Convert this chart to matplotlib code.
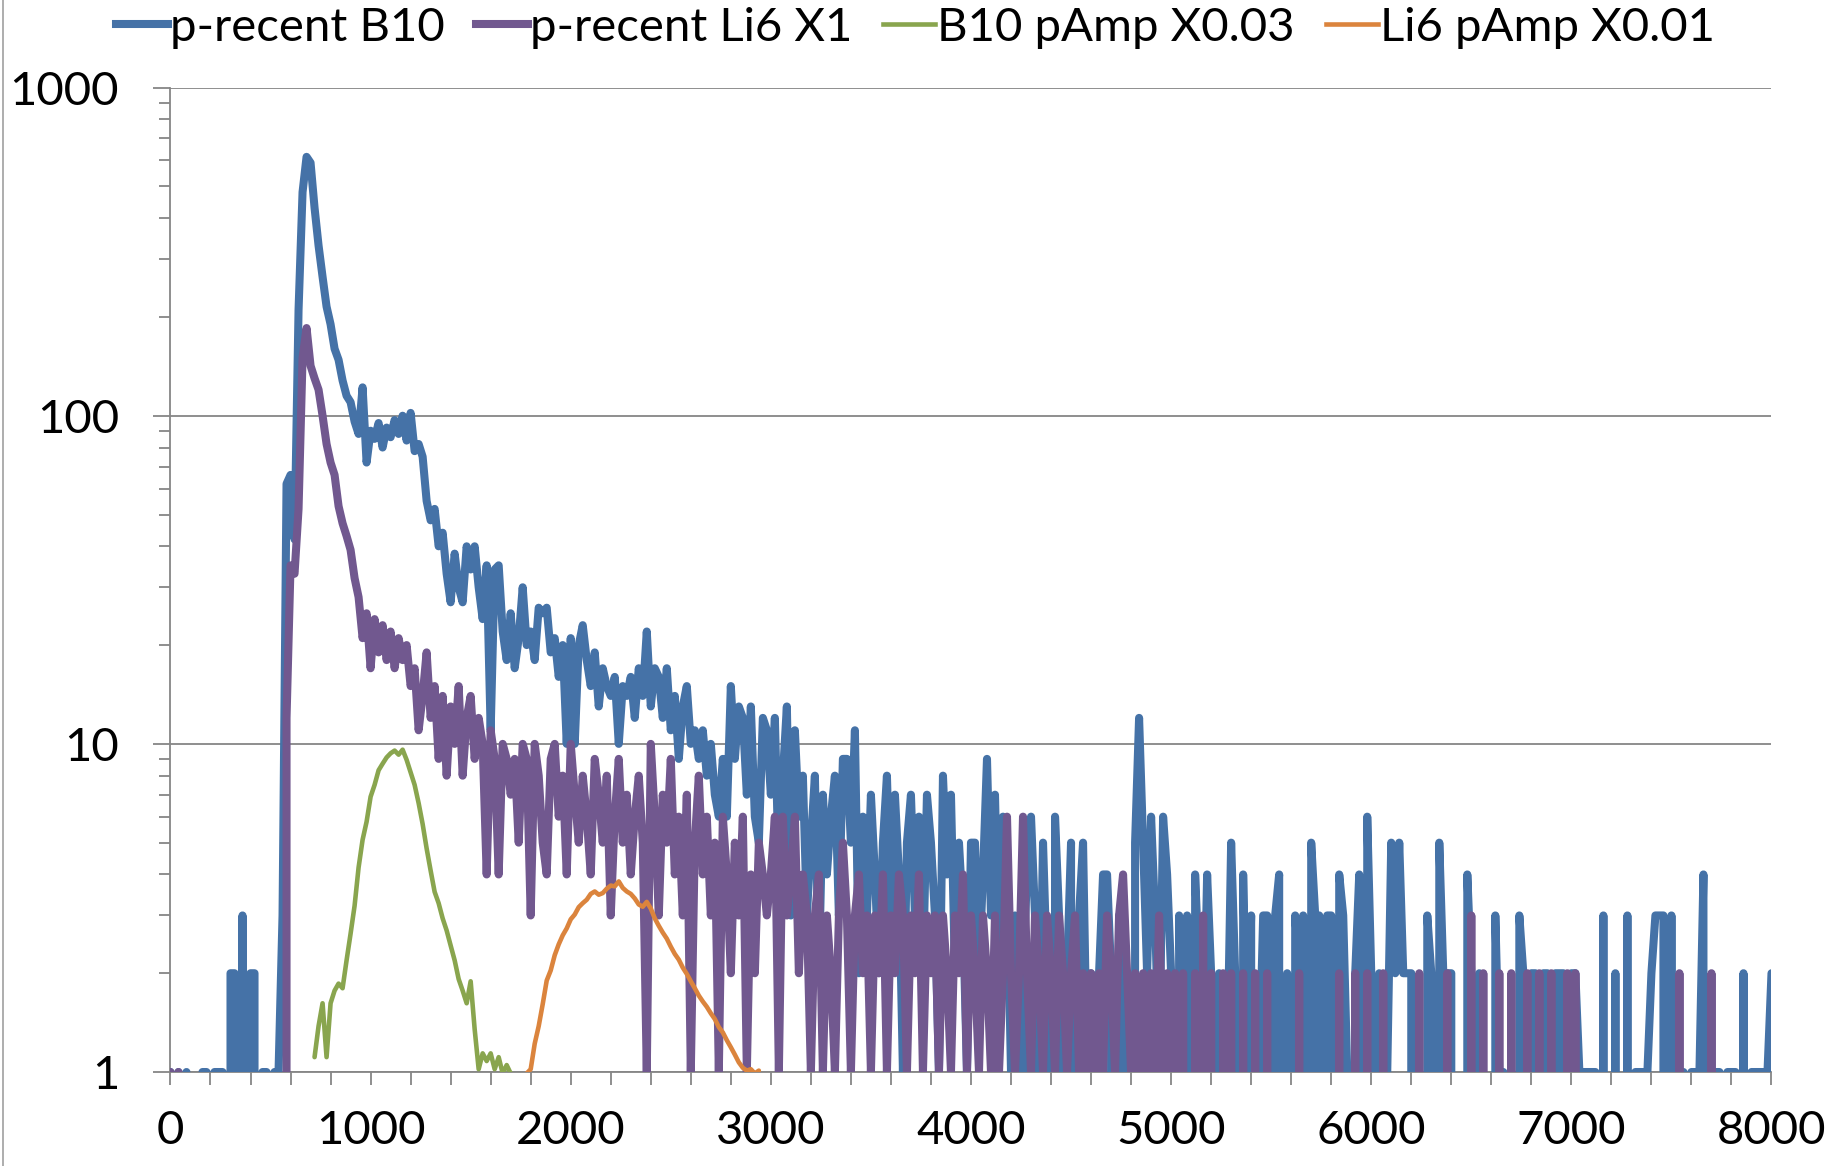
import numpy as np
import matplotlib
matplotlib.use("Agg")
import matplotlib.pyplot as plt
from matplotlib.ticker import FixedLocator, NullFormatter, MultipleLocator
from matplotlib.lines import Line2D

plt.rcParams['font.family'] = ['Lato', 'DejaVu Sans']

# histogram bins, 20 channels wide
bin_x = np.arange(0, 8001, 20)

b10_recent = [
    1, 0, 1, 0, 1, 0, 0, 0, 1, 1,
    0, 1, 1, 1, 0, 2, 2, 0, 3, 0,
    2, 2, 0, 1, 1, 0, 1, 1, 3, 62,
    66, 42, 210, 480, 615, 590, 430, 330, 265, 215,
    190, 160, 148, 128, 115, 110, 96, 88, 122, 72,
    90, 85, 95, 80, 92, 86, 97, 88, 100, 84,
    102, 78, 82, 75, 55, 48, 52, 40, 44, 33,
    27, 38, 30, 27, 40, 34, 40, 30, 24, 35,
    11, 34, 35, 22, 18, 25, 17, 21, 30, 20,
    22, 18, 26, 25, 26, 19, 21, 16, 20, 10,
    21, 10, 20, 23, 18, 15, 19, 13, 17, 15,
    14, 16, 10, 15, 14, 16, 12, 17, 14, 22,
    13, 17, 16, 12, 17, 11, 14, 9, 13, 15,
    10, 11, 9, 11, 8, 10, 7, 6, 9, 6,
    15, 9, 13, 12, 7, 13, 6, 5, 12, 11,
    7, 12, 4, 8, 13, 3, 11, 6, 8, 3,
    5, 8, 2, 7, 4, 6, 8, 3, 9, 9,
    5, 11, 2, 6, 3, 7, 4, 2, 5, 8,
    3, 7, 4, 1, 5, 7, 3, 6, 2, 7,
    5, 3, 1, 8, 4, 7, 2, 5, 3, 1,
    5, 5, 2, 4, 9, 3, 7, 2, 6, 4,
    1, 3, 0, 2, 4, 6, 3, 1, 5, 2,
    0, 6, 3, 1, 2, 5, 0, 3, 5, 1,
    2, 0, 2, 4, 4, 2, 0, 3, 1, 2,
    0, 5, 12, 5, 2, 6, 3, 1, 6, 4,
    2, 0, 3, 1, 3, 0, 4, 2, 1, 4,
    2, 0, 2, 0, 1, 5, 2, 0, 4, 1,
    3, 0, 1, 3, 3, 0, 3, 4, 0, 2,
    0, 3, 2, 3, 0, 5, 3, 3, 0, 3,
    3, 0, 4, 3, 1, 0, 2, 4, 0, 6,
    2, 0, 2, 0, 1, 5, 2, 5, 2, 2,
    2, 0, 0, 0, 3, 2, 0, 5, 2, 2,
    2, 0, 0, 0, 4, 2, 0, 2, 0, 0,
    0, 3, 1, 1, 0, 1, 0, 3, 2, 0,
    2, 2, 0, 2, 2, 0, 2, 2, 2, 0,
    2, 2, 1, 1, 1, 1, 1, 0, 3, 0,
    0, 2, 0, 0, 3, 0, 1, 1, 1, 1,
    2, 3, 3, 3, 0, 3, 0, 1, 1, 0,
    1, 1, 1, 4, 0, 1, 1, 1, 0, 1,
    1, 1, 0, 2, 0, 1, 1, 1, 1, 1,
    2,
]

li6_recent = [
    1, 0, 1, 0, 0, 0, 0, 0, 0, 0,
    0, 0, 0, 0, 0, 0, 0, 0, 0, 0,
    0, 0, 0, 0, 0, 0, 0, 0, 0, 12,
    35, 33, 52, 150, 185, 142, 130, 120, 100, 82,
    72, 66, 53, 47, 43, 39, 32, 28, 21, 25,
    17, 24, 19, 23, 18, 22, 17, 21, 18, 20,
    15, 17, 11, 14, 19, 12, 15, 9, 14, 8,
    13, 10, 15, 8, 12, 14, 9, 12, 10, 4,
    11, 9, 4, 10, 9, 7, 9, 5, 10, 9,
    3, 10, 8, 5, 4, 9, 10, 6, 8, 4,
    10, 7, 5, 8, 6, 4, 9, 7, 5, 8,
    3, 6, 9, 5, 7, 4, 6, 8, 5, 1,
    10, 6, 3, 7, 5, 9, 4, 6, 3, 7,
    1, 5, 8, 4, 6, 3, 5, 1, 6, 4,
    2, 5, 3, 6, 1, 4, 2, 5, 4, 3,
    4, 6, 1, 6, 3, 4, 6, 2, 4, 3,
    1, 3, 4, 1, 3, 2, 1, 3, 5, 3,
    1, 3, 4, 2, 3, 1, 3, 2, 4, 1,
    3, 2, 4, 3, 1, 3, 2, 4, 1, 3,
    2, 3, 1, 3, 2, 1, 3, 2, 4, 1,
    3, 2, 1, 3, 2, 1, 3, 1, 2, 6,
    2, 1, 2, 6, 2, 1, 3, 2, 1, 3,
    2, 1, 3, 2, 1, 2, 3, 1, 2, 1,
    2, 1, 2, 1, 3, 2, 1, 3, 4, 2,
    1, 2, 1, 2, 1, 2, 1, 3, 1, 2,
    1, 2, 0, 2, 0, 0, 2, 0, 3, 0,
    2, 0, 0, 2, 0, 2, 0, 0, 2, 0,
    0, 2, 0, 0, 2, 0, 0, 0, 0, 0,
    0, 0, 2, 0, 0, 0, 0, 0, 0, 0,
    0, 0, 2, 0, 0, 0, 2, 0, 0, 2,
    0, 0, 0, 2, 0, 0, 0, 0, 0, 0,
    0, 0, 2, 0, 0, 0, 0, 0, 0, 2,
    0, 0, 0, 0, 0, 3, 0, 0, 2, 0,
    0, 0, 2, 0, 0, 2, 0, 0, 0, 2,
    0, 0, 2, 0, 0, 2, 0, 0, 0, 2,
    0, 2, 0, 0, 0, 0, 0, 0, 0, 0,
    0, 0, 0, 0, 0, 0, 0, 0, 0, 0,
    0, 0, 0, 0, 0, 0, 0, 2, 0, 0,
    0, 0, 0, 0, 0, 2, 0, 0, 0, 0,
    0, 0, 0, 0, 0, 0, 0, 0, 0, 0,
    0,
]

# pAmp spectra (already scaled), 20 channel bins
b10_pamp_x = np.arange(720, 1701, 20)
b10_pamp = [
    1.11, 1.38, 1.62, 1.11, 1.62, 1.77, 1.86, 1.80, 2.19, 2.64,
    3.21, 4.20, 5.10, 5.79, 6.90, 7.50, 8.31, 8.70, 9.09, 9.36,
    9.54, 9.27, 9.60, 8.94, 8.19, 7.50, 6.60, 5.70, 4.80, 4.11,
    3.54, 3.27, 2.94, 2.70, 2.43, 2.19, 1.92, 1.77, 1.62, 1.89,
    1.35, 1.02, 1.14, 1.08, 1.14, 1.02, 1.11, 0.99, 1.05, 0.99,
]

li6_pamp_x = np.arange(1780, 2941, 20)
li6_pamp = [
    0.99, 1.02, 1.22, 1.38, 1.61, 1.90, 2.04, 2.27, 2.45, 2.61,
    2.74, 2.92, 3.02, 3.18, 3.27, 3.35, 3.49, 3.55, 3.47, 3.51,
    3.62, 3.70, 3.68, 3.81, 3.64, 3.55, 3.49, 3.38, 3.24, 3.19,
    3.30, 3.15, 2.94, 2.79, 2.66, 2.55, 2.41, 2.29, 2.20, 2.08,
    1.99, 1.89, 1.80, 1.71, 1.64, 1.58, 1.51, 1.45, 1.37, 1.32,
    1.25, 1.19, 1.13, 1.07, 1.03, 1.01, 1.02, 0.99, 1.01,
]

labels = ['p-recent B10', 'p-recent Li6 X1', 'B10 pAmp X0.03', 'Li6 pAmp X0.01']
colors = ['#4572A7', '#71588F', '#89A54E', '#DB843D']
widths = [5.8, 5.8, 3.3, 3.3]
grid_c = '#868686'

fig = plt.figure(figsize=(18.31, 11.66), dpi=100)
ax = fig.add_axes([0.0931, 0.0806, 0.8744, 0.8443])
ax.set_yscale('log', nonpositive='clip')

kw = dict(solid_joinstyle='round', solid_capstyle='round')
ax.plot(bin_x, b10_recent, color=colors[0], lw=widths[0], zorder=3, **kw)
ax.plot(bin_x, li6_recent, color=colors[1], lw=widths[1], zorder=4, **kw)
ax.plot(b10_pamp_x, b10_pamp, color=colors[2], lw=widths[2], zorder=5, **kw)
ax.plot(li6_pamp_x, li6_pamp, color=colors[3], lw=widths[3], zorder=6, **kw)

ax.set_xlim(0, 8000)
ax.set_ylim(1, 1000)

ax.xaxis.set_major_locator(MultipleLocator(1000))
ax.xaxis.set_minor_locator(MultipleLocator(200))
ax.yaxis.set_major_locator(FixedLocator([1, 10, 100, 1000]))
ax.yaxis.set_major_formatter(plt.FuncFormatter(lambda v, p: '%d' % v))
minors = [m * d for d in (1, 10, 100) for m in range(2, 10)]
ax.yaxis.set_minor_locator(FixedLocator(minors))
ax.yaxis.set_minor_formatter(NullFormatter())

ax.grid(axis='y', which='major', color=grid_c, lw=1.3, zorder=1)
for s in ('top', 'right'):
    ax.spines[s].set_visible(False)
for s in ('left', 'bottom'):
    ax.spines[s].set_color(grid_c)
    ax.spines[s].set_linewidth(1.3)

ax.tick_params(axis='y', which='major', length=12, width=1.3, color=grid_c,
               labelsize=34, pad=25)
ax.tick_params(axis='y', which='minor', length=8, width=1.3, color=grid_c)
ax.tick_params(axis='x', which='both', length=9, width=1.3, color=grid_c,
               labelsize=34, pad=18)

handles = [Line2D([], [], color=c, lw=w) for c, w in zip(colors, widths)]
fig.legend(handles, labels, loc='center', bbox_to_anchor=(0.5, 0.976), ncol=4,
           frameon=False, fontsize=34, handlelength=1.1, handletextpad=0.05,
           columnspacing=0.65)

fig.add_artist(Line2D([0.0015, 0.0015], [0, 1], color='#a0a0a0', lw=1.2,
                      transform=fig.transFigure))

fig.savefig('out.png', dpi=100)
